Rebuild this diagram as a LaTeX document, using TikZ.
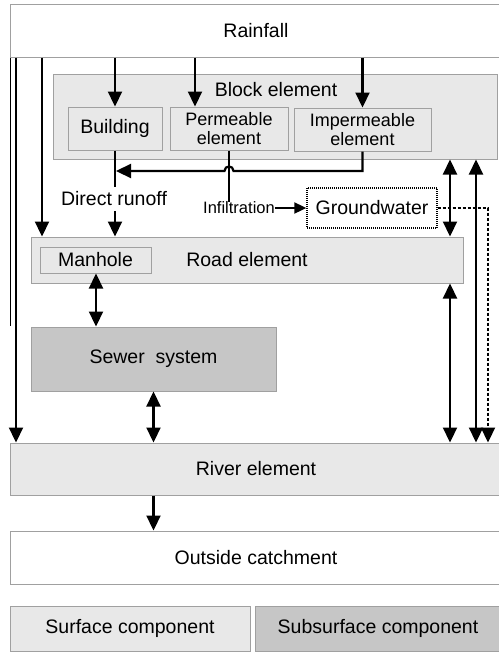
\documentclass[tikz,border=0pt]{standalone}
\usepackage{fontspec}
\setmainfont{Liberation Sans}
\usetikzlibrary{arrows.meta}
\definecolor{surfgray}{HTML}{E8E8E8}
\definecolor{subgray}{HTML}{C6C6C6}
\definecolor{boxline}{HTML}{A0A0A0}
\begin{document}
\begin{tikzpicture}[x=1pt,y=-1pt,
  box/.style={draw=boxline, line width=1pt, inner sep=0pt, font=\fontsize{19.5}{21}\selectfont},
  surf/.style={box, fill=surfgray},
  sub/.style={box, fill=subgray},
  plain/.style={box, fill=white},
  two/.style={align=center, font=\fontsize{18}{19}\selectfont},
  lbl/.style={inner sep=0pt, font=\fontsize{19.5}{21}\selectfont},
  arr/.style={line width=2.2pt, -{Triangle[length=15pt,width=14pt]}},
  darr/.style={line width=2.2pt, {Triangle[length=15pt,width=14pt]}-{Triangle[length=15pt,width=14pt]}},
  conn/.style={line width=2.2pt}
]
\useasboundingbox (0,0) rectangle (498,653);

% boxes
\node[plain, minimum width=492pt, minimum height=53pt] (rain) at (256,30.5) {Rainfall};
\node[surf, minimum width=444pt, minimum height=85pt] (block) at (275,116.5) {};
\node[lbl] (blocklbl) at (276,90) {Block element};
\node[surf, minimum width=94pt, minimum height=43pt] (bld) at (115,128.5) {Building};
\node[surf, two, minimum width=118pt, minimum height=43pt] (perm) at (229,128.5) {Permeable\\element};
\node[surf, two, minimum width=137pt, minimum height=43pt] (imp) at (362.5,129.5) {Impermeable\\element};

\node[lbl] (drunoff) at (114,199) {Direct runoff};
\node[inner sep=0pt, font=\fontsize{16.5}{18}\selectfont] (infil) at (239,208) {Infiltration};
\node[box, draw=black, densely dotted, line width=1.3pt, minimum width=130pt, minimum height=40pt] (gw) at (372,208) {Groundwater};

\node[surf, minimum width=432pt, minimum height=46pt] (road) at (247,260) {Road element};
\node[surf, minimum width=111pt, minimum height=26pt] (mh) at (95.5,260) {Manhole};

\node[sub, minimum width=245pt, minimum height=64pt] (sewer) at (153.5,359) {Sewer\ \ system};
\node[surf, minimum width=492pt, minimum height=52pt] (river) at (256,469) {River element};
\node[plain, minimum width=492pt, minimum height=53pt] (out) at (256,557.5) {Outside catchment};

\node[surf, minimum width=240pt, minimum height=45pt] (legs) at (130,628.5) {Surface component};
\node[sub, minimum width=246pt, minimum height=45pt] (legu) at (378,628.5) {Subsurface component};

% thin left line
\draw[line width=0.9pt] (10,0 |- rain.south) -- (10,326);

% rainfall arrows
\draw[arr] (16,0 |- rain.south) -- (16,0 |- river.north);
\draw[arr] (42,0 |- rain.south) -- (42,0 |- road.north);
\draw[arr] (rain.south -| bld.north) -- (bld.north);
\draw[arr] (195,0 |- rain.south) -- (195,0 |- perm.north);
\draw[arr] (rain.south -| imp.north) -- (imp.north);

% runoff
\coordinate (drtop) at (115,187);
\draw[conn] (bld.south) -- (drtop);
\draw[arr] (imp.south) -- (imp.south |- 0,171) -- (233.5,171)
  .. controls (233.5,165) and (224.5,165) .. (224.5,171) -- (116,171);
\draw[conn] (perm.south) -- (perm.south |- infil.north);
\draw[arr, shorten <=5pt] (bld.south |- drunoff.south) -- (bld.south |- road.north);
\draw[line width=1.8pt, -{Triangle[length=12pt,width=11pt]}] (infil.east) -- (gw.west);

% groundwater
\draw[arr, dash pattern=on 3pt off 2pt] (gw.east) -- (488,0 |- gw.east) -- (488,0 |- river.north);

% right arrows
\draw[darr] (450,0 |- block.south) -- (450,0 |- road.north);
\draw[darr] (450,0 |- road.south) -- (450,0 |- river.north);
\draw[darr] (476,0 |- block.south) -- (476,0 |- river.north);

% manhole / sewer / river
\draw[darr] (96,0 |- mh.south) -- (96,0 |- sewer.north);
\draw[darr] (sewer.south) -- (sewer.south |- river.north);
\draw[arr] (sewer.south |- river.south) -- (sewer.south |- out.north);
\end{tikzpicture}
\end{document}
